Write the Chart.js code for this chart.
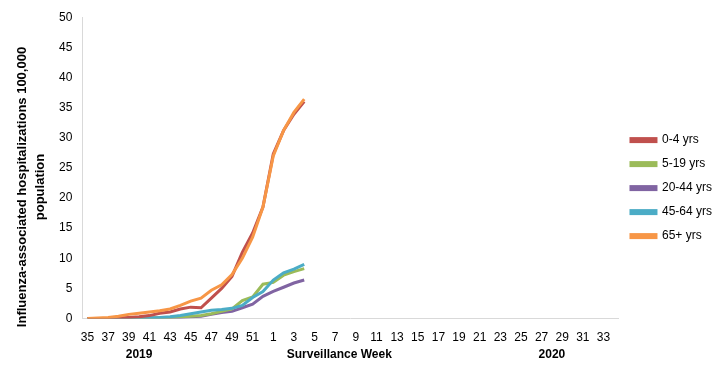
<!DOCTYPE html>
<html>
<head>
<meta charset="utf-8">
<script src="https://cdn.jsdelivr.net/npm/chart.js@4.4.1/dist/chart.umd.min.js"></script>
<style>
  html, body { margin: 0; padding: 0; background: #fff; }
  #wrap { width: 722px; height: 374px; position: relative; }
</style>
</head>
<body>
<div id="wrap"><canvas id="chart"></canvas></div>
<script>
// Surveillance weeks 35 (2019) .. 34 (2020)
const weeks = [35, 36, 37, 38, 39, 40, 41, 42, 43, 44, 45, 46, 47, 48, 49, 50, 51, 52,
  1, 2, 3, 4, 5, 6, 7, 8, 9, 10, 11, 12, 13, 14, 15, 16, 17, 18, 19, 20, 21, 22, 23, 24,
  25, 26, 27, 28, 29, 30, 31, 32, 33, 34];

// cumulative rates, weeks 35..4
const age0to4 = [0, 0, 0, 0.1, 0.2, 0.3, 0.5, 0.9, 1.1, 1.6, 1.9, 1.8, 3.4, 5.0, 7.0, 11.0, 14.2, 18.5, 27.3, 31.2, 33.9, 36.0];
const age5to19 = [0, 0, 0, 0, 0.05, 0.1, 0.1, 0.15, 0.2, 0.3, 0.4, 0.5, 0.8, 1.2, 1.6, 3.0, 3.6, 5.7, 6.0, 7.2, 7.8, 8.3];
const age20to44 = [0, 0, 0, 0, 0, 0.05, 0.05, 0.1, 0.1, 0.2, 0.3, 0.4, 0.7, 1.0, 1.2, 1.8, 2.4, 3.7, 4.5, 5.2, 5.9, 6.4];
const age45to64 = [0, 0, 0, 0, 0.05, 0.1, 0.15, 0.2, 0.3, 0.5, 0.8, 1.1, 1.4, 1.5, 1.7, 2.2, 3.5, 4.5, 6.4, 7.6, 8.2, 9.0];
const age65plus = [0, 0.1, 0.2, 0.4, 0.7, 0.9, 1.1, 1.3, 1.6, 2.2, 2.9, 3.4, 4.7, 5.6, 7.3, 10.0, 13.5, 18.5, 27.0, 31.2, 34.2, 36.4];

const seriesNames = ['0-4 yrs', '5-19 yrs', '20-44 yrs', '45-64 yrs', '65+ yrs'];
const seriesColors = ['#C0504D', '#9BBB59', '#8064A2', '#4BACC6', '#F79646'];
const seriesData = [age0to4, age5to19, age20to44, age45to64, age65plus];
const seriesOrder = [2, 4, 5, 3, 1]; // orange drawn on top

const yTitleLines = ['Influenza-associated hospitalizations 100,000', 'population'];

// labels under the week axis (text + category index it sits under)
const bottomLabels = [
    { text: '2019', index: 5 },
    { text: 'Surveillance Week', index: 24.4 },
    { text: '2020', index: 45 }
];

const axisTextPlugin = {
    id: 'axisText',
    afterDraw(chart) {
        const ctx = chart.ctx;
        const x = chart.scales.x;
        ctx.save();
        ctx.font = 'bold 12px "Liberation Sans", Arial, sans-serif';
        ctx.fillStyle = '#000';
        ctx.textAlign = 'center';
        ctx.textBaseline = 'middle';
        bottomLabels.forEach(l => {
            ctx.fillText(l.text, x.getPixelForValue(l.index), 355);
        });
        // y title, centred on the whole picture height like the original
        ctx.font = 'bold 13px "Liberation Sans", Arial, sans-serif';
        ctx.translate(0, chart.height / 2);
        ctx.rotate(-Math.PI / 2);
        yTitleLines.forEach((t, i) => {
            ctx.fillText(t, 0, 22 + i * 18);
        });
        ctx.restore();
    }
};

const ctx = document.getElementById('chart').getContext('2d');
new Chart(ctx, {
    type: 'line',
    data: {
        labels: weeks,
        datasets: seriesNames.map((name, i) => ({
            label: name,
            data: seriesData[i],
            borderColor: seriesColors[i],
            backgroundColor: seriesColors[i],
            borderWidth: 3,
            pointRadius: 0,
            tension: 0,
            order: seriesOrder[i]
        }))
    },
    options: {
        responsive: true,
        maintainAspectRatio: false,
        animation: false,
        layout: { padding: { top: 10, right: 0, left: 49, bottom: 17 } },
        plugins: {
            tooltip: { enabled: false },
            legend: {
                position: 'right',
                // empty title only pushes the legend rows down a little
                title: { display: true, text: '', font: { size: 1 }, padding: { top: 4, bottom: 4 } },
                labels: {
                    boxWidth: 25,
                    boxHeight: 3,
                    padding: 12,
                    color: '#000',
                    font: { family: '"Liberation Sans", Arial, sans-serif', size: 12 },
                    sort: (a, b) => a.datasetIndex - b.datasetIndex
                }
            }
        },
        scales: {
            x: {
                offset: true,
                grid: { display: false, drawTicks: false },
                border: { color: '#d9d9d9' },
                ticks: {
                    autoSkip: false,
                    maxRotation: 0,
                    padding: 12,
                    color: '#000',
                    font: { family: '"Liberation Sans", Arial, sans-serif', size: 12 },
                    callback: function (v, i) { return i % 2 === 0 ? this.getLabelForValue(v) : ''; }
                }
            },
            y: {
                min: 0,
                max: 50,
                grid: { display: false, drawTicks: false },
                border: { color: '#d9d9d9' },
                ticks: {
                    stepSize: 5,
                    padding: 10,
                    color: '#000',
                    font: { family: '"Liberation Sans", Arial, sans-serif', size: 12 }
                }
            }
        }
    },
    plugins: [axisTextPlugin]
});
</script>
</body>
</html>
